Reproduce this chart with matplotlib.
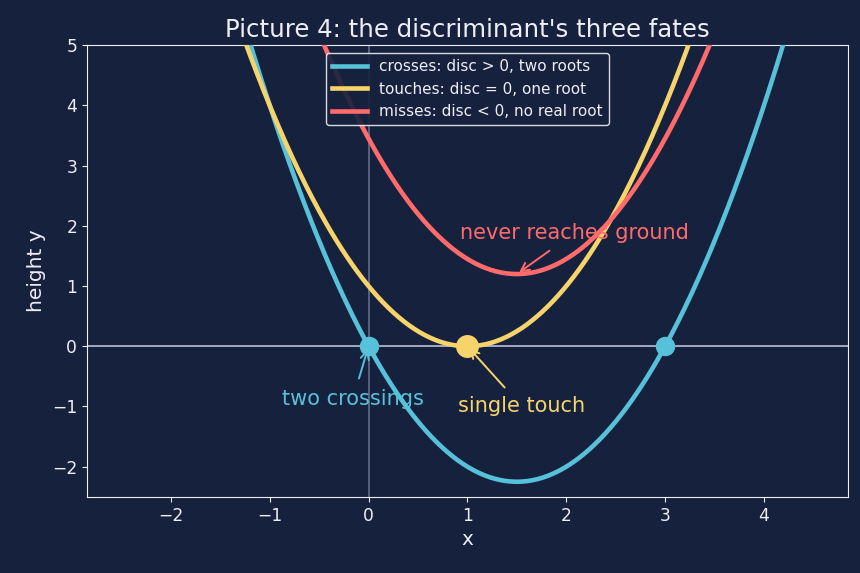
import matplotlib
matplotlib.use('Agg')
import matplotlib.pyplot as plt
import numpy as np

plt.rcParams['font.family'] = ['DejaVu Sans']

# roots / vertex data
blue_roots = [0, 3]
yellow_root = [1]
red_vertex = (1.5, 1.2)
labels = ['crosses: disc > 0, two roots',
          'touches: disc = 0, one root',
          'misses: disc < 0, no real root']

BG = '#16213e'
BLUE = '#56c1d8'
YELLOW = '#f7d46b'
RED = '#ff6b6b'
FG = '#eeeef4'

x = np.linspace(-2.5, 4.5, 400)
y_blue = (x - blue_roots[0]) * (x - blue_roots[1])
y_yellow = (x - yellow_root[0]) ** 2
y_red = (x - red_vertex[0]) ** 2 + red_vertex[1]

fig, ax = plt.subplots(figsize=(8.6, 5.73), dpi=100)
fig.patch.set_facecolor(BG)
ax.set_facecolor(BG)

ax.axhline(0, color='#b0b4c8', lw=1.3, zorder=1)
ax.axvline(0, color='#6b7290', lw=1.1, zorder=1)

ax.plot(x, y_blue, color=BLUE, lw=3.3, label=labels[0], zorder=3)
ax.plot(x, y_yellow, color=YELLOW, lw=3.3, label=labels[1], zorder=3)
ax.plot(x, y_red, color=RED, lw=3.3, label=labels[2], zorder=3)

ax.plot(blue_roots, [0, 0], 'o', color=BLUE, ms=13, zorder=4)
ax.plot(yellow_root, [0], 'o', color=YELLOW, ms=15.5, zorder=4)

ax.annotate('two crossings', xy=(0, 0), xytext=(-0.16, -0.88),
            color=BLUE, fontsize=15, ha='center', va='center',
            arrowprops=dict(arrowstyle='->', color=BLUE, lw=1.4, shrinkA=6))
ax.annotate('single touch', xy=(1, 0), xytext=(1.55, -1.0),
            color=YELLOW, fontsize=15, ha='center', va='center',
            arrowprops=dict(arrowstyle='->', color=YELLOW, lw=1.4, shrinkA=6))
ax.annotate('never reaches ground', xy=red_vertex, xytext=(2.08, 1.88),
            color=RED, fontsize=15, ha='center', va='center',
            arrowprops=dict(arrowstyle='->', color=RED, lw=1.4, shrinkA=6))

ax.set_xlim(-2.85, 4.85)
ax.set_ylim(-2.5, 5)
ax.set_title("Picture 4: the discriminant's three fates", color=FG, fontsize=17.6)
ax.set_xlabel('x', color=FG, fontsize=14.5)
ax.set_ylabel('height y', color=FG, fontsize=14.5)
ax.tick_params(colors=FG, labelsize=12.3)
for s in ax.spines.values():
    s.set_color(FG)

leg = ax.legend(loc='upper center', fontsize=11, facecolor=BG, edgecolor=FG,
                labelcolor=FG, framealpha=0.9, borderpad=0.4, handlelength=2.3)

fig.subplots_adjust(left=0.101, right=0.986, top=0.921, bottom=0.133)
fig.savefig('out.png', dpi=100, facecolor=BG)
